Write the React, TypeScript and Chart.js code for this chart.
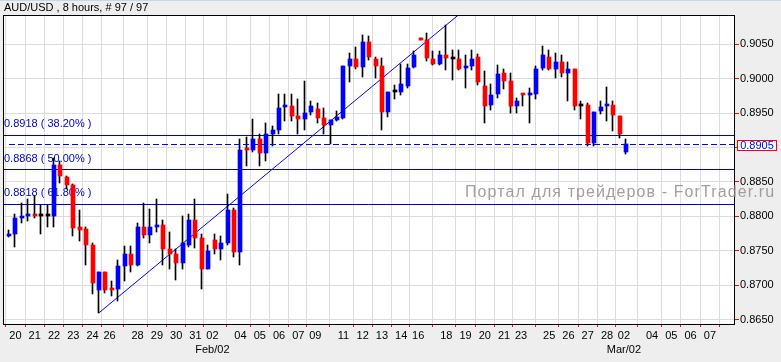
import React, { useEffect, useRef } from 'react';
import { Chart, registerables } from 'chart.js';

Chart.register(...registerables);

// ---- data (AUD/USD, 8-hour candles, 97 bars) ----
const opens = [
  0.8772, 0.8774, 0.8797, 0.8800, 0.8804, 0.8801, 0.8801, 0.8801, 0.8874, 0.8857,
  0.8845, 0.8784, 0.8782, 0.8758, 0.8693, 0.8720, 0.8694, 0.8694, 0.8728, 0.8746,
  0.8730, 0.8785, 0.8773, 0.8784, 0.8788, 0.8752, 0.8746, 0.8732, 0.8759, 0.8795,
  0.8768, 0.8724, 0.8766, 0.8753, 0.8762, 0.8810, 0.8748, 0.8897, 0.8896, 0.8912,
  0.8892, 0.8919, 0.8926, 0.8959, 0.8960, 0.8946, 0.8942, 0.8951, 0.8956, 0.8943,
  0.8933, 0.8940, 0.8943, 0.9018, 0.9029, 0.9017, 0.9054, 0.9029, 0.9019, 0.8951,
  0.8981, 0.8981, 0.8990, 0.9017, 0.9059, 0.9056, 0.9028, 0.9021, 0.9034, 0.9029,
  0.9029, 0.9015, 0.9018, 0.9031, 0.8990, 0.8962, 0.8978, 0.9009, 0.8997, 0.8961,
  0.8978, 0.8977, 0.8978, 0.9015, 0.9031, 0.9014, 0.9025, 0.9009, 0.9014, 0.8961,
  0.8962, 0.8906, 0.8953, 0.8960, 0.8962, 0.8946, 0.8893,
];
const highs = [
  0.8780, 0.8804, 0.8820, 0.8826, 0.8830, 0.8817, 0.8817, 0.8885, 0.8880, 0.8859,
  0.8847, 0.8810, 0.8784, 0.8762, 0.8720, 0.8720, 0.8706, 0.8737, 0.8757, 0.8757,
  0.8791, 0.8820, 0.8811, 0.8826, 0.8795, 0.8777, 0.8752, 0.8801, 0.8804, 0.8826,
  0.8774, 0.8758, 0.8774, 0.8772, 0.8833, 0.8812, 0.8913, 0.8916, 0.8941, 0.8919,
  0.8936, 0.8931, 0.8978, 0.8978, 0.8978, 0.8971, 0.8996, 0.8967, 0.8965, 0.8958,
  0.8940, 0.8953, 0.9018, 0.9037, 0.9046, 0.9064, 0.9062, 0.9031, 0.9030, 0.8981,
  0.8991, 0.9022, 0.9022, 0.9040, 0.9059, 0.9066, 0.9040, 0.9040, 0.9078, 0.9042,
  0.9042, 0.9035, 0.9042, 0.9036, 0.9011, 0.8993, 0.9020, 0.9014, 0.9008, 0.8972,
  0.8978, 0.8986, 0.9019, 0.9047, 0.9042, 0.9037, 0.9034, 0.9025, 0.9014, 0.8968,
  0.8965, 0.8952, 0.8968, 0.8988, 0.8968, 0.8946, 0.8912,
];
const lows = [
  0.8770, 0.8755, 0.8791, 0.8793, 0.8798, 0.8774, 0.8785, 0.8785, 0.8848, 0.8840,
  0.8772, 0.8764, 0.8730, 0.8687, 0.8660, 0.8689, 0.8684, 0.8677, 0.8706, 0.8720,
  0.8728, 0.8769, 0.8761, 0.8778, 0.8730, 0.8723, 0.8708, 0.8723, 0.8755, 0.8754,
  0.8694, 0.8723, 0.8746, 0.8736, 0.8758, 0.8741, 0.8729, 0.8873, 0.8894, 0.8873,
  0.8880, 0.8902, 0.8919, 0.8938, 0.8938, 0.8919, 0.8925, 0.8948, 0.8935, 0.8919,
  0.8905, 0.8938, 0.8942, 0.8995, 0.9014, 0.9003, 0.9027, 0.9001, 0.8926, 0.8945,
  0.8970, 0.8977, 0.8987, 0.9015, 0.9056, 0.9026, 0.9020, 0.9020, 0.9013, 0.8998,
  0.9013, 0.8987, 0.9013, 0.8991, 0.8935, 0.8955, 0.8972, 0.8985, 0.8950, 0.8950,
  0.8960, 0.8935, 0.8971, 0.9013, 0.9012, 0.9001, 0.9003, 0.8967, 0.8954, 0.8942,
  0.8902, 0.8902, 0.8949, 0.8938, 0.8924, 0.8914, 0.8890,
];
const closes = [
  0.8773, 0.8797, 0.8800, 0.8804, 0.8801, 0.8801, 0.8801, 0.8874, 0.8858, 0.8846,
  0.8783, 0.8781, 0.8758, 0.8703, 0.8720, 0.8693, 0.8693, 0.8728, 0.8746, 0.8730,
  0.8785, 0.8773, 0.8784, 0.8788, 0.8752, 0.8746, 0.8732, 0.8761, 0.8795, 0.8768,
  0.8724, 0.8750, 0.8753, 0.8762, 0.8810, 0.8748, 0.8897, 0.8896, 0.8912, 0.8892,
  0.8919, 0.8926, 0.8958, 0.8960, 0.8946, 0.8942, 0.8950, 0.8960, 0.8943, 0.8933,
  0.8940, 0.8945, 0.9018, 0.9029, 0.9017, 0.9054, 0.9032, 0.9019, 0.8951, 0.8981,
  0.8981, 0.8993, 0.9016, 0.9034, 0.9056, 0.9030, 0.9021, 0.9035, 0.9030, 0.9029,
  0.9014, 0.9018, 0.9029, 0.8995, 0.8960, 0.8977, 0.9007, 0.8997, 0.8961, 0.8968,
  0.8976, 0.8978, 0.9014, 0.9034, 0.9014, 0.9025, 0.9009, 0.9014, 0.8960, 0.8961,
  0.8906, 0.8952, 0.8959, 0.8962, 0.8947, 0.8919, 0.8905,
];

// x-axis day labels and the candle where each labelled day starts
const dayLabels = [
  '20', '21', '22', '23', '24', '26', '28', '29', '30', '31', '02', '04', '05', '06', '07', '09',
  '11', '12', '13', '14', '16', '18', '19', '20', '21', '23', '25', '26', '27', '28', '02',
  '04', '05', '06', '07',
];
const dayCandles = [
  1, 4, 7, 10, 13, 16, 20, 23, 26, 29, 32, 36, 39, 42, 45, 48,
  52, 55, 58, 61, 64, 68, 71, 74, 77, 80, 84, 87, 90, 93, 96,
  100, 103, 106, 109,
];
// short Sunday sessions (their day ticks sit slightly before the candle)
const sundayCandles = [0, 16, 32, 48, 64, 80, 96];
const monthCandles = [32, 96];
const monthLabels = ['Feb/02', 'Mar/02'];

const priceTicks = [0.865, 0.87, 0.875, 0.88, 0.885, 0.89, 0.895, 0.9, 0.905];

const fibLevels = [0.8918, 0.8868, 0.8818];
const fibPercents = ['38.20%', '50.00%', '61.80%'];

// trend line anchors: low of candle 14 -> high of candle 68 (extended ray)
const trendFrom = 14;
const trendTo = 68;

const titleText = 'AUD/USD , 8 hours, # 97 / 97';
const watermark = 'Портал для трейдеров - ForTrader.ru';

// ---- axis ranges ----
const X_MIN = -0.933;
const X_MAX = 112.75;
const Y_MIN = 0.864375;
const Y_MAX = 0.909256;

const FONT = '"Liberation Sans", Arial, sans-serif';

const tickValues = dayCandles.map((c) => (sundayCandles.includes(c) ? c - 0.37 : c));
const tickLabels = dayCandles.map((c, i) => {
  const m = monthCandles.indexOf(c);
  return m >= 0 ? [dayLabels[i], monthLabels[m]] : dayLabels[i];
});

const decorPlugin = {
  id: 'decor',
  beforeDraw(chart: any) {
    const { ctx, chartArea: a, width, height } = chart;
    ctx.save();
    ctx.fillStyle = '#EEEEEE';
    ctx.fillRect(0, 0, width, height);
    ctx.fillStyle = '#C2D8F0';
    ctx.fillRect(0, 0, width, 1);
    ctx.fillStyle = '#FFFFFF';
    ctx.fillRect(a.left, a.top, a.right - a.left, a.bottom - a.top);
    ctx.restore();
  },
  beforeDatasetsDraw(chart: any) {
    const { ctx } = chart;
    const ys = chart.scales.y;
    // snap marks to whole pixels so they stay crisp
    chart.data.datasets.forEach((ds: any, di: number) => {
      const meta = chart.getDatasetMeta(di);
      if (ds.snap === 'h') {
        meta.data.forEach((p: any) => {
          p.y = Math.round(p.y - 0.5) + 0.5;
        });
      } else if (ds.snap === 'wick' || ds.snap === 'body') {
        meta.data.forEach((el: any) => {
          const cx = Math.round(el.x);
          el.x = ds.snap === 'wick' ? cx - 0.5 : cx;
          const top = Math.round(Math.min(el.y, el.base));
          let bot = Math.round(Math.max(el.y, el.base));
          if (bot - top < 1) bot = top + 1;
          el.y = top;
          el.base = bot;
        });
      }
    });
    ctx.save();
    ctx.font = `11px ${FONT}`;
    ctx.fillStyle = '#0000C8';
    ctx.textBaseline = 'middle';
    ctx.textAlign = 'left';
    fibLevels.forEach((lv, i) => {
      const y = ys.getPixelForValue(lv);
      ctx.fillText(`${lv.toFixed(4)} ( ${fibPercents[i]} )`, 4, y - 11);
    });
    ctx.restore();
  },
  afterDraw(chart: any) {
    const { ctx, chartArea: a } = chart;
    const ys = chart.scales.y;
    ctx.save();
    // plot frame
    ctx.strokeStyle = '#000000';
    ctx.lineWidth = 1;
    ctx.strokeRect(a.left + 0.5, a.top + 0.5, a.right - a.left, a.bottom - a.top);
    // title
    ctx.font = `11px ${FONT}`;
    ctx.fillStyle = '#000000';
    ctx.textBaseline = 'middle';
    ctx.textAlign = 'left';
    ctx.fillText(titleText, 4, 8);
    // watermark
    ctx.font = `16px ${FONT}`;
    const w = ctx.measureText(watermark).width;
    const targetW = 309;
    (ctx as any).letterSpacing = `${((targetW - w) / (watermark.length - 1)).toFixed(2)}px`;
    ctx.fillStyle = 'rgba(150,140,140,0.85)';
    ctx.textBaseline = 'alphabetic';
    ctx.fillText(watermark, 465, 197);
    (ctx as any).letterSpacing = '0px';
    // current price box
    const last = closes[closes.length - 1];
    const py = Math.round(ys.getPixelForValue(last));
    ctx.fillStyle = '#FFFFFF';
    ctx.fillRect(737, py - 4, 40, 11);
    ctx.strokeStyle = '#FF0000';
    ctx.strokeRect(737.5, py - 3.5, 39, 10);
    ctx.font = `11px ${FONT}`;
    ctx.fillStyle = '#0000FF';
    ctx.textAlign = 'center';
    ctx.textBaseline = 'middle';
    ctx.fillText(last.toFixed(4), 757, py + 1.5);
    ctx.restore();
  },
};

export default function App() {
  const ref = useRef<HTMLCanvasElement | null>(null);

  useEffect(() => {
    document.body.style.margin = '0';
    const canvas = ref.current;
    if (!canvas) return;

    const bodyColors = opens.map((o, i) =>
      closes[i] > o ? '#0000FF' : closes[i] < o ? '#FF0000' : '#000000'
    );
    const bodies = opens.map((o, i) => ({ x: i, y: [Math.min(o, closes[i]), Math.max(o, closes[i])] }));
    const wicks = lows.map((l, i) => ({ x: i, y: [l, highs[i]] }));

    const slope = (highs[trendTo] - lows[trendFrom]) / (trendTo - trendFrom);
    const trend = [
      { x: trendFrom, y: lows[trendFrom] },
      { x: X_MAX, y: lows[trendFrom] + slope * (X_MAX - trendFrom) },
    ];
    const last = closes[closes.length - 1];

    const lineBase = {
      type: 'line' as const,
      pointRadius: 0,
      borderWidth: 1,
      tension: 0,
      fill: false,
    };

    const chart = new Chart(canvas, {
      type: 'bar',
      data: {
        datasets: [
          ...fibLevels.map((lv) => ({
            ...lineBase,
            data: [
              { x: X_MIN, y: lv },
              { x: X_MAX, y: lv },
            ],
            borderColor: '#0000C8',
            snap: 'h',
            order: 5,
          })),
          {
            ...lineBase,
            data: trend,
            borderColor: '#0000FF',
            order: 4,
          },
          {
            type: 'bar' as const,
            data: wicks,
            backgroundColor: '#000000',
            barThickness: 1,
            grouped: false,
            snap: 'wick',
            order: 2,
          },
          {
            type: 'bar' as const,
            data: bodies,
            backgroundColor: bodyColors,
            barThickness: 4,
            minBarLength: 2,
            grouped: false,
            snap: 'body',
            order: 1,
          },
          {
            ...lineBase,
            data: [
              { x: 0, y: last },
              { x: X_MAX, y: last },
            ],
            borderColor: '#0000FF',
            borderDash: [6, 3],
            snap: 'h',
            order: 0,
          },
        ] as any,
      },
      options: {
        animation: false,
        responsive: false,
        devicePixelRatio: 1,
        events: [],
        layout: { padding: { left: 3, top: 15, right: 0, bottom: 0 } },
        plugins: {
          legend: { display: false },
          tooltip: { enabled: false },
          title: { display: false },
        },
        scales: {
          x: {
            type: 'linear',
            min: X_MIN,
            max: X_MAX,
            bounds: 'data',
            offset: false,
            afterBuildTicks: (s: any) => {
              s.ticks = tickValues.map((v) => ({ value: v }));
            },
            afterFit: (s: any) => {
              s.height = 38;
            },
            ticks: {
              autoSkip: false,
              maxRotation: 0,
              minRotation: 0,
              padding: 1,
              color: '#000000',
              font: { family: FONT, size: 11, lineHeight: 1.36 },
              callback: (_v: any, i: number) => tickLabels[i],
            },
            grid: { color: '#DCDCDC', tickColor: '#FF0000', tickLength: 3, lineWidth: 1 },
            border: { display: false },
          },
          y: {
            type: 'linear',
            position: 'right',
            min: Y_MIN,
            max: Y_MAX,
            bounds: 'data',
            afterBuildTicks: (s: any) => {
              s.ticks = priceTicks.map((v) => ({ value: v }));
            },
            afterFit: (s: any) => {
              s.width = 47;
            },
            ticks: {
              autoSkip: false,
              padding: 1,
              color: '#000000',
              font: { family: FONT, size: 11 },
              callback: (v: any) => Number(v).toFixed(4),
            },
            grid: { color: '#DCDCDC', tickColor: '#FF0000', tickLength: 5, lineWidth: 1 },
            border: { display: false },
          },
        },
      } as any,
      plugins: [decorPlugin],
    });

    return () => chart.destroy();
  }, []);

  return (
    <div style={{ width: 781, height: 362, background: '#EEEEEE' }}>
      <canvas ref={ref} width={781} height={362} style={{ display: 'block' }} />
    </div>
  );
}
